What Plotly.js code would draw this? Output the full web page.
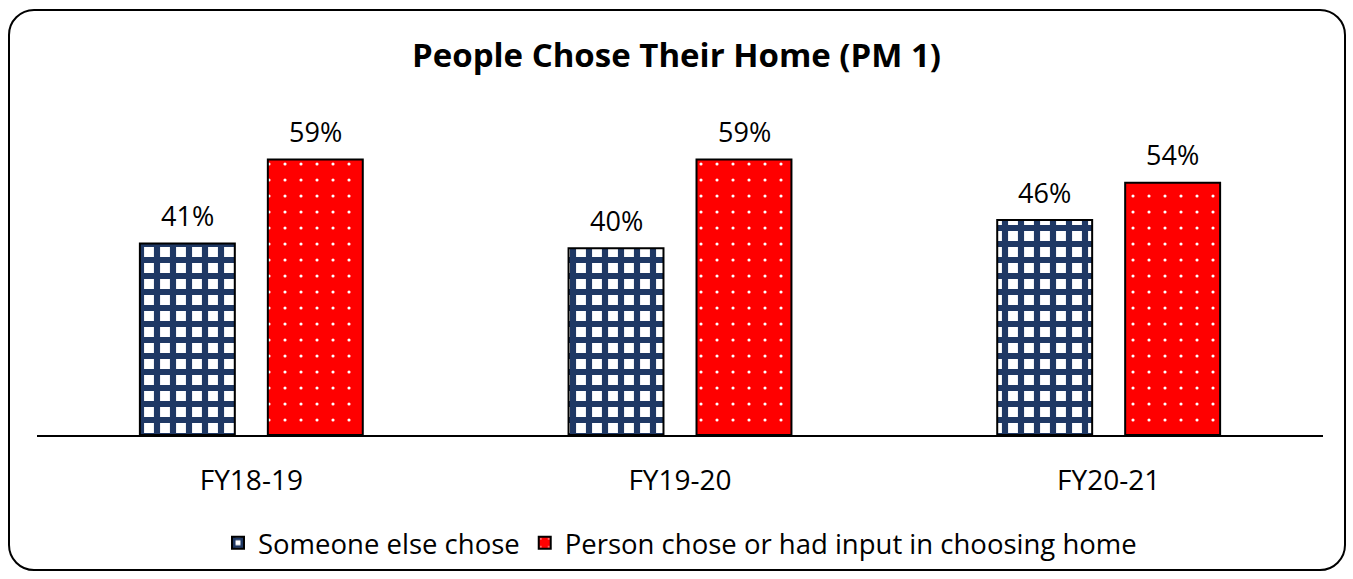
<!DOCTYPE html>
<html>
<head>
<meta charset="utf-8">
<script src="https://cdn.plot.ly/plotly-3.0.1.min.js"></script>
<style>
  html, body { margin:0; padding:0; background:#fff; }
  #wrap { position:relative; width:1353px; height:579px; }
  #chart { position:absolute; left:0; top:0; width:1353px; height:579px; }
  #frame { position:absolute; left:8px; top:9px; width:1334px; height:558px; border:2px solid #000; border-radius:26px; pointer-events:none; }
</style>
</head>
<body>
<div id="wrap"><div id="chart"></div><div id="frame"></div></div>
<script>
const categories = ['FY18-19', 'FY19-20', 'FY20-21'];
const someoneElse = [41, 40, 46];
const personChose = [59, 59, 54];
const seriesNames = ['Someone else chose', 'Person chose or had input in choosing home'];

const FONT = '"Open Sans", "Noto Sans", sans-serif';

const traces = [
  {
    type: 'bar', name: seriesNames[0], x: categories, y: someoneElse,
    marker: {
      color: '#1F3864',
      line: { color: '#000', width: 2 },
      pattern: { shape: '+', bgcolor: '#ffffff', fgcolor: '#1F3864', size: 16, solidity: 0.62, fillmode: 'replace' }
    },
    hoverinfo: 'skip'
  },
  {
    type: 'bar', name: seriesNames[1], x: categories, y: personChose,
    marker: {
      color: '#FF0000',
      line: { color: '#000', width: 2 },
      pattern: { shape: '.', bgcolor: '#FF0000', fgcolor: '#ffffff', size: 16, solidity: 0.03, fillmode: 'replace' }
    },
    hoverinfo: 'skip'
  }
];

const annotations = [];
[someoneElse, personChose].forEach((vals, si) => {
  vals.forEach((v, i) => {
    annotations.push({
      x: categories[i], y: v, xref: 'x', yref: 'y',
      text: v + '%', showarrow: false,
      xshift: si === 0 ? -64 : 64, yshift: 28,
      font: { family: FONT, size: 27, color: '#000' }
    });
  });
});

const layout = {
  width: 1353, height: 579,
  margin: { l: 37, r: 30, t: 108, b: 142 },
  paper_bgcolor: 'rgba(0,0,0,0)', plot_bgcolor: 'rgba(0,0,0,0)',
  title: { text: '<b>People Chose Their Home (PM 1)</b>', x: 0.5, xanchor: 'center', y: 0.905, yanchor: 'middle',
           font: { family: FONT, size: 33, color: '#000' } },
  barmode: 'group', bargap: 0.403, bargroupgap: 0.258,
  xaxis: {
    showline: true, linecolor: '#000', linewidth: 1.5, ticks: '', showgrid: false, zeroline: false,
    tickfont: { family: FONT, size: 28, color: '#000' }, ticklabelstandoff: 20, fixedrange: true
  },
  yaxis: { range: [0, 70], visible: false, showgrid: false, zeroline: false, fixedrange: true },
  showlegend: true,
  legend: {
    orientation: 'h', x: 0.5, xanchor: 'center', y: -0.33, yanchor: 'middle',
    font: { family: FONT, size: 27.5, color: '#000' }, itemwidth: 30, traceorder: 'normal'
  },
  annotations: annotations
};

Plotly.newPlot('chart', traces, layout, { displayModeBar: false, staticPlot: true });
</script>
</body>
</html>
